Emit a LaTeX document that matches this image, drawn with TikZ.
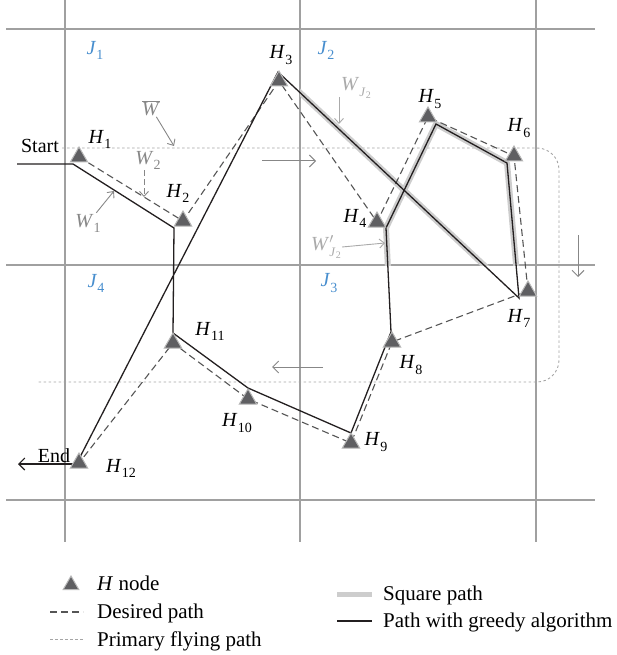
\documentclass[tikz,border=0pt]{standalone}
\usepackage{fontspec}
\setmainfont{Liberation Serif}
\usetikzlibrary{arrows.meta,shapes.geometric}
\definecolor{gridc}{RGB}{160,160,160}
\definecolor{jblue}{RGB}{72,142,206}
\definecolor{greedyc}{RGB}{35,31,32}
\definecolor{dashc}{RGB}{85,85,85}
\definecolor{dotc}{RGB}{165,165,165}
\definecolor{bandc}{RGB}{205,205,205}
\definecolor{trifill}{RGB}{95,95,98}
\definecolor{triedge}{RGB}{185,185,185}
\definecolor{wgray}{RGB}{135,135,135}
\definecolor{wlight}{RGB}{170,170,170}
\newcommand{\sublbl}[2]{\textit{#1}\kern0.3pt\raisebox{-0.55ex}{\fontsize{14}{14}\selectfont #2}}
\newcommand{\subJtwo}{\raisebox{-0.6ex}{\fontsize{13}{13}\selectfont\textit{J}\kern0.2pt\raisebox{-0.4ex}{\fontsize{10}{10}\selectfont 2}}}
\begin{document}
\begin{tikzpicture}[x=1pt,y=-1pt,
  font=\fontsize{20}{22}\selectfont,
  gridline/.style={draw=gridc,line width=1.3pt},
  primary/.style={draw=dotc,line width=0.9pt,dash pattern=on 2.5pt off 2.5pt,rounded corners=22pt},
  band/.style={draw=bandc,line width=6pt,line join=round},
  desired/.style={draw=dashc,line width=1.1pt,dash pattern=on 7pt off 4pt},
  greedy/.style={draw=greedyc,line width=1.3pt,line join=miter},
  tri/.style={regular polygon,regular polygon sides=3,minimum size=18pt,inner sep=0pt,fill=trifill,draw=triedge,line width=1pt},
  hl/.style={inner sep=1pt,text=black},
  jl/.style={inner sep=1pt,text=jblue},
  wl/.style={inner sep=1pt,text=wgray},
  wl2/.style={inner sep=1pt,text=wlight},
  warrow/.style={draw=wgray,line width=0.9pt,-{Straight Barb[length=5pt,width=9pt]}},
  warrowl/.style={draw=wlight,line width=0.9pt,-{Straight Barb[length=5pt,width=9pt]}},
  flyarrow/.style={draw=wgray,line width=1pt,-{Straight Barb[length=6pt,width=12pt]}},
  lgtext/.style={anchor=base west,inner sep=0pt,font=\fontsize{21}{23}\selectfont}
]
\useasboundingbox (0,0) rectangle (616,655);

% grid
\draw[gridline] (65,0) -- (65,542);
\draw[gridline] (300,0) -- (300,542);
\draw[gridline] (536,0) -- (536,542);
\draw[gridline] (6,29) -- (595,29);
\draw[gridline] (6,265) -- (595,265);
\draw[gridline] (6,500) -- (595,500);

% primary flying path
\draw[primary] (62,148) -- (559,148) -- (559,382) -- (38,382);

% greedy vertices
\coordinate (s0) at (17,164);
\coordinate (g1) at (73,164);
\coordinate (g2) at (174,228);
\coordinate (g3) at (278,72);
\coordinate (g4) at (386,228);
\coordinate (g5) at (436,124);
\coordinate (g6) at (507,163);
\coordinate (g7) at (519,298);
\coordinate (g8) at (391,332);
\coordinate (g9) at (351,433);
\coordinate (g10) at (248,388);
\coordinate (g11) at (173,333);
\coordinate (g12) at (79,459);
\coordinate (e1) at (79,464);
\coordinate (e0) at (18,464);

% square path (inside J2)
\begin{scope}
\clip (300,29) rectangle (536,265);
\draw[band] (g3) -- (g7);
\draw[band] (g8) -- (g4) -- (g5) -- (g6) -- (g7);
\end{scope}

% H nodes
\node[tri] (h1) at (79,157) {};
\node[tri] (h2) at (183,221) {};
\node[tri] (h3) at (279,81) {};
\node[tri] (h4) at (377,222) {};
\node[tri] (h5) at (428,117) {};
\node[tri] (h6) at (514,156) {};
\node[tri] (h7) at (528,291) {};
\node[tri] (h8) at (392,342) {};
\node[tri] (h9) at (351,443) {};
\node[tri] (h10) at (248,399) {};
\node[tri] (h11) at (173,343) {};
\node[tri] (h12) at (79,463) {};

% desired path
\begin{scope}[on background layer/.style={}]
\draw[desired] (h1.center) -- (h2.center) -- (h3.center) -- (h4.center) -- (h5.center) -- (h6.center) -- (h7.center) -- (h8.center) -- (h9.center) -- (h10.center) -- (h11.center) -- (h12.center);
\end{scope}

% greedy path
\draw[greedy] (s0) -- (g1) -- (g2) -- (g11) -- (g10) -- (g9) -- (g8) -- (g4) -- (g5) -- (g6) -- (g7) -- (g3) -- (g12);
\draw[greedyc,line width=1.1pt,-{Straight Barb[length=6pt,width=12pt]}] (e1) -- (e0);

% redraw triangles on top
\foreach \n in {h1,h2,h3,h4,h5,h6,h7,h8,h9,h10,h11,h12}{
  \fill[trifill,draw=triedge,line width=1pt] (\n.corner 1) -- (\n.corner 2) -- (\n.corner 3) -- cycle;
}

% start / end
\node[hl,anchor=base] (start) at (40,153) {Start};
\node[hl,anchor=base] (end) at (54,462) {End};

% H labels
\node[hl] (l1) at (100,139) {\sublbl{H}{1}};
\node[hl] (l2) at (178,193) {\sublbl{H}{2}};
\node[hl] (l3) at (281,55) {\sublbl{H}{3}};
\node[hl] (l4) at (355,218) {\sublbl{H}{4}};
\node[hl] (l5) at (430,99) {\sublbl{H}{5}};
\node[hl] (l6) at (519,128) {\sublbl{H}{6}};
\node[hl] (l7) at (519,318) {\sublbl{H}{7}};
\node[hl] (l8) at (411,365) {\sublbl{H}{8}};
\node[hl] (l9) at (376,442) {\sublbl{H}{9}};
\node[hl] (l10) at (237,423) {\sublbl{H}{10}};
\node[hl] (l11) at (210,331) {\sublbl{H}{11}};
\node[hl] (l12) at (121,468) {\sublbl{H}{12}};

% J labels
\node[jl] (j1) at (95,50) {\sublbl{J}{1}};
\node[jl] (j2) at (326,50) {\sublbl{J}{2}};
\node[jl] (j3) at (329,283) {\sublbl{J}{3}};
\node[jl] (j4) at (96,283) {\sublbl{J}{4}};

% W labels and pointers
\node[wl] (wbar) at (151,108) {$\overline{\mbox{\textit{W}}}$};
\coordinate (wbarT) at (174,146);
\draw[warrow] (wbar) -- (wbarT);

\node[wl] (w2) at (148,160) {\sublbl{W}{2}};
\coordinate (w2T) at (144,197);
\draw[warrow,dash pattern=on 6pt off 3pt] (w2T |- w2.south) -- (w2T);

\node[wl] (w1) at (88,223) {\sublbl{W}{1}};
\coordinate (w1T) at (114,191);
\draw[warrow] (w1) -- (w1T);

\node[wl2] (wj2) at (356,88) {\textit{W}\subJtwo};
\coordinate (wj2T) at (339,124);
\draw[warrowl] (339,97) -- (wj2T);

\node[wl2] (wj2p) at (326,247) {\textit{W}\rlap{$'$}\subJtwo};
\coordinate (wj2pT) at (385,243);
\draw[warrowl] (wj2p.east) -- (wj2pT);

% flying direction arrows
\coordinate (fa1) at (262,161); \coordinate (fa2) at (316,161);
\coordinate (fb1) at (578,235); \coordinate (fb2) at (578,277);
\coordinate (fc1) at (323,367); \coordinate (fc2) at (272,367);
\draw[flyarrow] (fa1) -- (fa2);
\draw[flyarrow] (fb1) -- (fb2);
\draw[flyarrow] (fc1) -- (fc2);

% legend
\node[tri] (lgtri) at (71,585) {};
\node[lgtext] (lgt1) at (97,590) {\textit{H} node};
\coordinate (lda) at (50,612); \coordinate (ldb) at (83,612);
\draw[desired] (lda) -- (ldb);
\node[lgtext] (lgt2) at (97,618) {Desired path};
\coordinate (lpa) at (50,639); \coordinate (lpb) at (83,639);
\draw[draw=dotc,line width=0.9pt,dash pattern=on 2.5pt off 2.5pt] (lpa) -- (lpb);
\node[lgtext] (lgt3) at (97,646) {Primary flying path};
\coordinate (lsa) at (337,594); \coordinate (lsb) at (372,594);
\draw[draw=bandc,line width=5pt] (lsa) -- (lsb);
\node[lgtext] (lgt4) at (383,600) {Square path};
\coordinate (lga) at (337,621); \coordinate (lgb) at (372,621);
\draw[greedy] (lga) -- (lgb);
\node[lgtext] (lgt5) at (383,627) {Path with greedy algorithm};
\end{tikzpicture}
\end{document}
